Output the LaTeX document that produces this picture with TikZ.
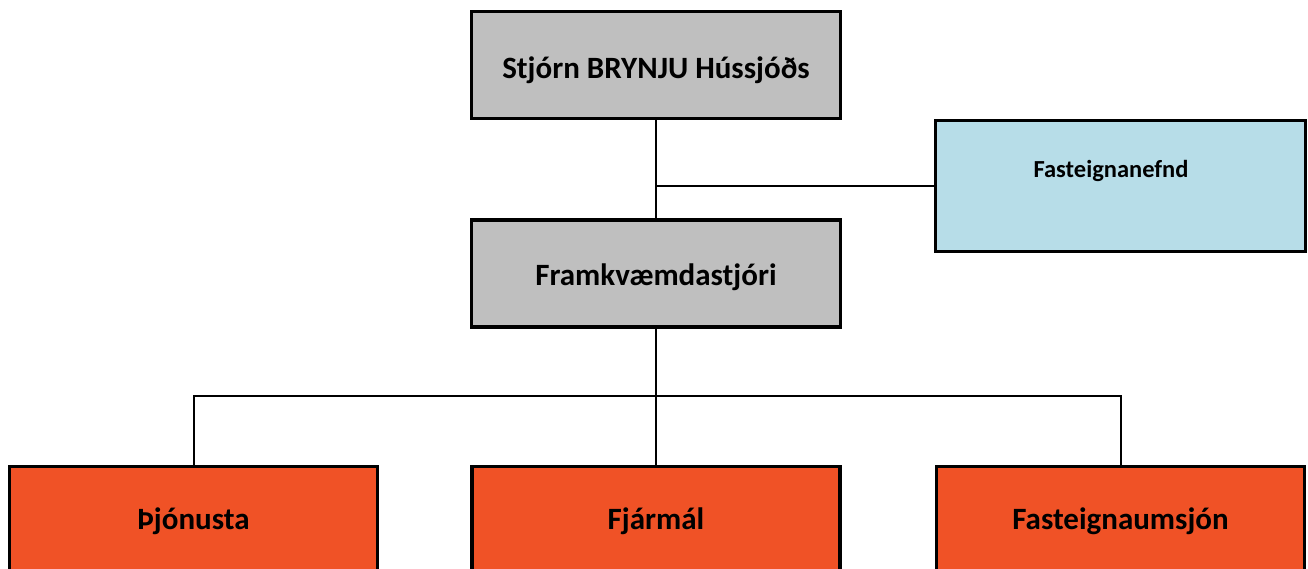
\documentclass[tikz,border=0pt]{standalone}
\usepackage{fontspec}
\setmainfont{Carlito}
\definecolor{boxgray}{HTML}{BFBFBF}
\definecolor{boxblue}{HTML}{B7DDE8}
\definecolor{boxorange}{HTML}{F05226}
\begin{document}
\begin{tikzpicture}[x=1pt,y=-1pt,
  box/.style={draw=black, line width=3.5pt, rectangle, inner sep=0pt},
  graybox/.style={box, fill=boxgray, minimum width=369pt, minimum height=107pt},
  orangebox/.style={box, fill=boxorange, minimum width=368pt, minimum height=108pt, anchor=north},
  conn/.style={draw=black, line width=2pt},
  bigtxt/.style={font=\bfseries\fontsize{31}{36}\selectfont},
  smalltxt/.style={font=\bfseries\fontsize{24.5}{29}\selectfont}]
\useasboundingbox (0,0) rectangle (1308,569);
\node[graybox] (top) at (656,65) {};
\node[bigtxt] (toptxt) at (656,70) {Stjórn BRYNJU Hússjóðs};
\node[graybox] (fram) at (656,273.5) {};
\node[bigtxt] (framtxt) at (656,277) {Framkvæmdastjóri};
\node[box, fill=boxblue, minimum width=370pt, minimum height=131pt] (fast) at (1120.5,186) {};
\node[smalltxt] (fasttxt) at (1111,171) {Fasteignanefnd};
\node[orangebox] (thj) at (193.5,464.5) {};
\node[bigtxt] (thjtxt) at (193.5,521) {Þjónusta};
\node[orangebox] (fjar) at (656,464.5) {};
\node[bigtxt] (fjartxt) at (656,521) {Fjármál};
\node[orangebox] (fau) at (1120.5,464.5) {};
\node[bigtxt] (fautxt) at (1120.5,521) {Fasteignaumsjón};
\coordinate (mid) at (top.south |- fast.west);
\coordinate (bus) at (656,396);
\draw[conn] (top.south) -- (fram.north);
\draw[conn] (mid) -- (fast.west);
\draw[conn] (fram.south) -- (fjar.north);
\draw[conn] (thj.north) |- (bus) -| (fau.north);
\end{tikzpicture}
\end{document}
